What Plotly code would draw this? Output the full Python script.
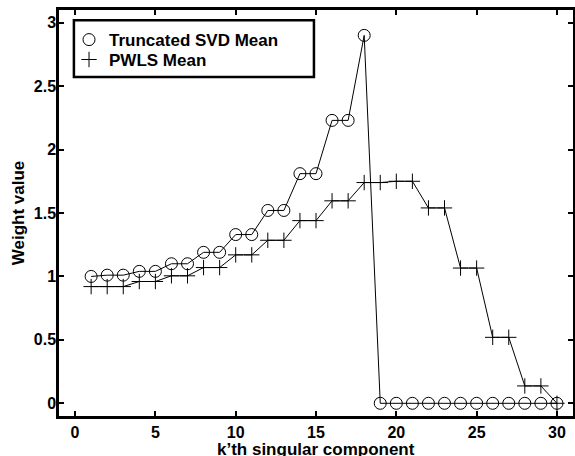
import plotly.graph_objects as go

k = list(range(1, 31))
svd_mean = [1.00, 1.01, 1.01, 1.04, 1.04, 1.10, 1.10, 1.19, 1.19, 1.33, 1.33, 1.52, 1.52, 1.81, 1.81,
            2.23, 2.23, 2.90, 0, 0, 0, 0, 0, 0, 0, 0, 0, 0, 0, 0]
pwls_mean = [0.92, 0.92, 0.92, 0.96, 0.96, 1.005, 1.005, 1.07, 1.07, 1.17, 1.17, 1.285, 1.285, 1.44, 1.44,
             1.596, 1.596, 1.74, 1.74, 1.75, 1.75, 1.54, 1.54, 1.066, 1.066, 0.52, 0.52, 0.137, 0.137, 0.0]
x_ticks = [0, 5, 10, 15, 20, 25, 30]
y_ticks = [0, 0.5, 1, 1.5, 2, 2.5, 3]
y_tick_labels = ["0", "0.5", "1", "1.5", "2", "2.5", "3"]
x_title = "k’th singular component"
y_title = "Weight value"

FAM = "Liberation Sans, Arial, Helvetica, sans-serif"
tick_font = dict(family=FAM, size=16, color="black", weight="bold")
title_font = dict(family=FAM, size=17, color="black", weight="bold")

circle_marker = dict(symbol="circle-open", size=12, color="black", line=dict(width=1, color="black"))
plus_marker = dict(symbol="cross-thin", size=11, color="black", line=dict(width=1, color="black"))

fig = go.Figure()
fig.add_trace(go.Scatter(
    x=k, y=svd_mean, mode="lines+markers", name="Truncated SVD Mean",
    line=dict(color="black", width=1), marker=circle_marker, showlegend=False,
))
fig.add_trace(go.Scatter(
    x=k, y=pwls_mean, mode="lines+markers", name="PWLS Mean",
    line=dict(color="black", width=1), marker=plus_marker, showlegend=False,
))
# legend entries (markers only, as in the reference), one legend per row for tight spacing
fig.add_trace(go.Scatter(x=[None], y=[None], mode="markers", name="Truncated SVD Mean",
                         marker=circle_marker, legend="legend"))
fig.add_trace(go.Scatter(x=[None], y=[None], mode="markers", name="PWLS Mean",
                         marker=plus_marker, legend="legend2"))

axis_common = dict(
    showline=True, linecolor="black", linewidth=2.5, mirror="ticks",
    ticks="inside", ticklen=5, tickwidth=1.5, tickcolor="black",
    showgrid=False, zeroline=False, tickfont=tick_font, automargin=False,
)
fig.update_xaxes(range=[-1, 31], tickvals=x_ticks, **axis_common)
fig.update_yaxes(range=[-0.1, 3.1], tickvals=y_ticks, ticktext=y_tick_labels,
                 ticklabelstandoff=-3,
                 title=dict(text=y_title, font=title_font, standoff=5),
                 **axis_common)

leg_common = dict(x=0.0195, xanchor="left", yanchor="middle", borderwidth=0,
                  bgcolor="rgba(0,0,0,0)", font=title_font, itemwidth=30, tracegroupgap=0)
fig.update_layout(
    width=575, height=456,
    margin=dict(l=59, r=2, t=10, b=40),
    plot_bgcolor="white", paper_bgcolor="white",
    showlegend=True,
    legend=dict(y=0.926, **leg_common),
    legend2=dict(y=0.877, **leg_common),
    shapes=[dict(type="rect", xref="paper", yref="paper",
                 x0=0.029, x1=0.496, y0=0.835, y1=0.975,
                 line=dict(color="black", width=2.5), fillcolor="white", layer="below")],
    annotations=[dict(text=x_title, xref="paper", yref="paper", x=0.5, y=-0.053,
                      xanchor="center", yanchor="top", showarrow=False, font=title_font)],
)

fig.write_html("out.html", config={"displayModeBar": False},
               post_script="document.body.style.margin='0';")
